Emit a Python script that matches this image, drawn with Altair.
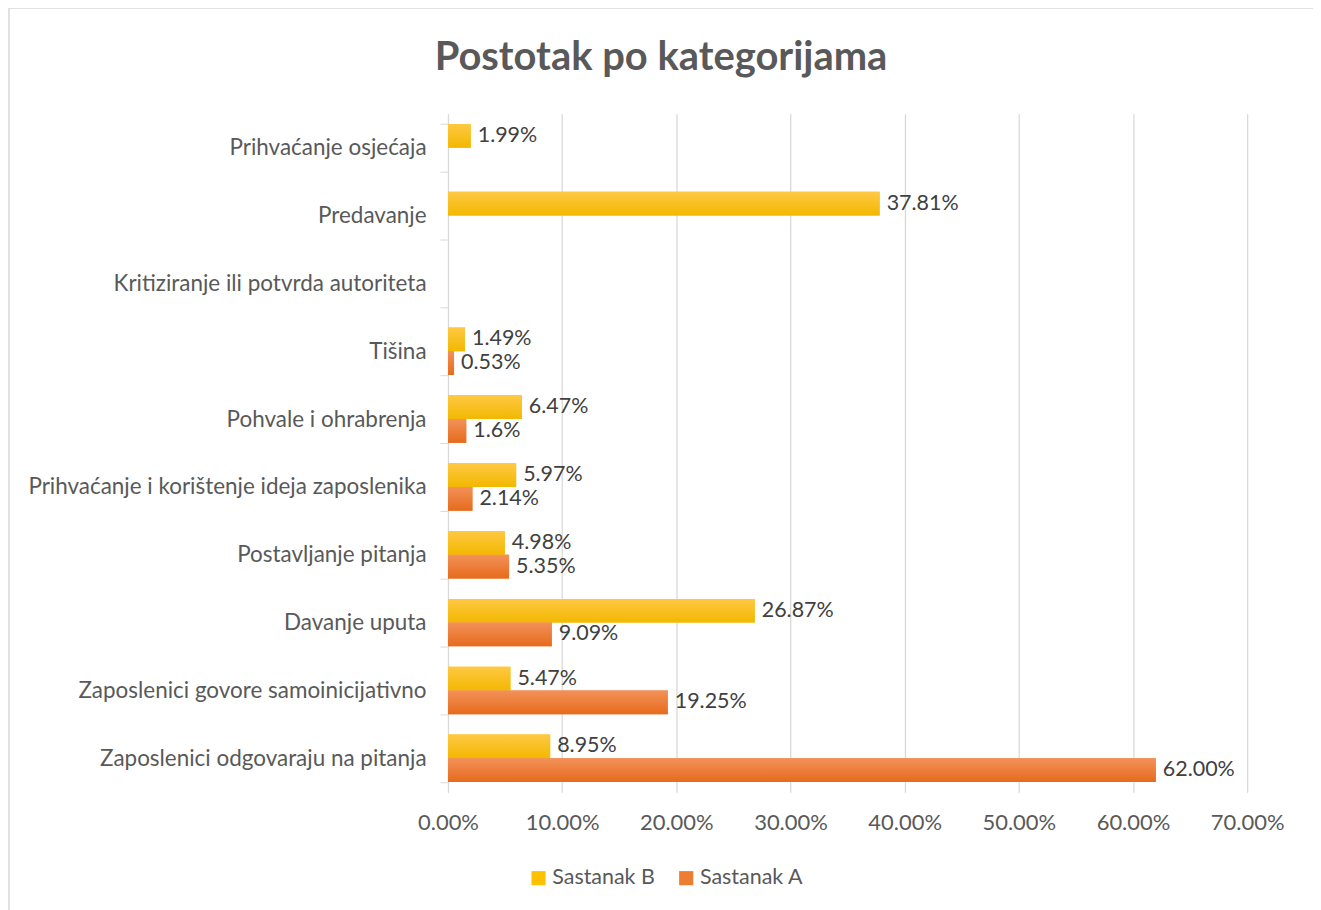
import altair as alt
import pandas as pd

categories = [
    "Prihvaćanje osjećaja",
    "Predavanje",
    "Kritiziranje ili potvrda autoriteta",
    "Tišina",
    "Pohvale i ohrabrenja",
    "Prihvaćanje i korištenje ideja zaposlenika",
    "Postavljanje pitanja",
    "Davanje uputa",
    "Zaposlenici govore samoinicijativno",
    "Zaposlenici odgovaraju na pitanja",
]
series_names = ["Sastanak B", "Sastanak A"]
values_b = [1.99, 37.81, None, 1.49, 6.47, 5.97, 4.98, 26.87, 5.47, 8.95]
values_a = [None, None, None, 0.53, 1.6, 2.14, 5.35, 9.09, 19.25, 62.00]
labels_b = ["1.99%", "37.81%", None, "1.49%", "6.47%", "5.97%", "4.98%", "26.87%", "5.47%", "8.95%"]
labels_a = [None, None, None, "0.53%", "1.6%", "2.14%", "5.35%", "9.09%", "19.25%", "62.00%"]
x_ticks = [0, 0.1, 0.2, 0.3, 0.4, 0.5, 0.6, 0.7]

rows = []
for s, vals, labs in [("Sastanak B", values_b, labels_b), ("Sastanak A", values_a, labels_a)]:
    for c, v, l in zip(categories, vals, labs):
        if v is not None:
            rows.append({"cat": c, "series": s, "value": v / 100.0, "label": l})
df = pd.DataFrame(rows)

FONT = "Lato"
TXT = "#595959"
FS = 22

y_scale = alt.Scale(domain=categories, paddingInner=0.3, paddingOuter=0.15)
y_enc = alt.Y("cat:N", sort=categories, title=None, scale=y_scale,
              axis=alt.Axis(tickBand="extent", labelFontSize=22.5, labelColor=TXT,
                            labelFont=FONT, labelPadding=14, domainColor="#d9d9d9",
                            tickColor="#d9d9d9", tickSize=8, labelLimit=600))
yoff = alt.YOffset("series:N", sort=series_names, scale=alt.Scale(domain=series_names))
x_enc = alt.X("value:Q", title=None,
              scale=alt.Scale(domain=[0, 0.7], nice=False),
              axis=alt.Axis(values=x_ticks, format=".2%", labelFontSize=FS, labelColor=TXT,
                            labelFont=FONT, labelPadding=20, domain=False, ticks=False,
                            labelFlush=False, labelOverlap=False,
                            grid=True, gridColor="#d9d9d9", gridWidth=1.3))

base = alt.Chart(df)

legend_bars = base.mark_bar().encode(
    x=x_enc, y=y_enc, yOffset=yoff,
    color=alt.Color("series:N", sort=series_names,
                    scale=alt.Scale(domain=series_names, range=["#FFC000", "#ED7D31"]),
                    legend=alt.Legend(title=None, orient="none", direction="horizontal",
                                      legendX=80, legendY=755, symbolType="square",
                                      symbolSize=200, symbolStrokeWidth=0,
                                      labelFontSize=21.5, labelColor=TXT, labelFont=FONT,
                                      columnPadding=20, labelOffset=3)),
)

grad_b = alt.LinearGradient(gradient="linear", x1=0, y1=0, x2=0, y2=1,
                            stops=[alt.GradientStop(color="#FFC844", offset=0),
                                   alt.GradientStop(color="#F2B800", offset=1)])
grad_a = alt.LinearGradient(gradient="linear", x1=0, y1=0, x2=0, y2=1,
                            stops=[alt.GradientStop(color="#F39159", offset=0),
                                   alt.GradientStop(color="#E66B1C", offset=1)])

bars_b = base.transform_filter(alt.datum.series == "Sastanak B").mark_bar(fill=grad_b).encode(
    x="value:Q", y=alt.Y("cat:N", sort=categories), yOffset=yoff)
bars_a = base.transform_filter(alt.datum.series == "Sastanak A").mark_bar(fill=grad_a).encode(
    x="value:Q", y=alt.Y("cat:N", sort=categories), yOffset=yoff)

texts = base.mark_text(align="left", baseline="middle", dx=7, fontSize=21.5,
                       font=FONT, color="#404040").encode(
    x="value:Q", y=alt.Y("cat:N", sort=categories), yOffset=yoff, text="label:N")

border = alt.Chart(pd.DataFrame({"a": [0]})).mark_rect(
    fill=None, stroke="#d9d9d9", strokeWidth=1.5).encode(
    x=alt.value(-440), x2=alt.value(868), y=alt.value(-106), y2=alt.value(820))

chart = alt.layer(border, legend_bars, bars_b, bars_a, texts).properties(
    width=801, height=680,
    autosize=alt.AutoSizeParams(type="none"),
    padding={"left": 441, "top": 105, "right": 66, "bottom": 117},
    title=alt.TitleParams("Postotak po kategorijama", fontSize=40, font=FONT,
                          fontWeight="bold", color=TXT, anchor="middle", dx=-187,
                          offset=-71),
).configure_view(stroke=None)

chart.save("out.html", embed_options={"renderer": "svg", "actions": False})
